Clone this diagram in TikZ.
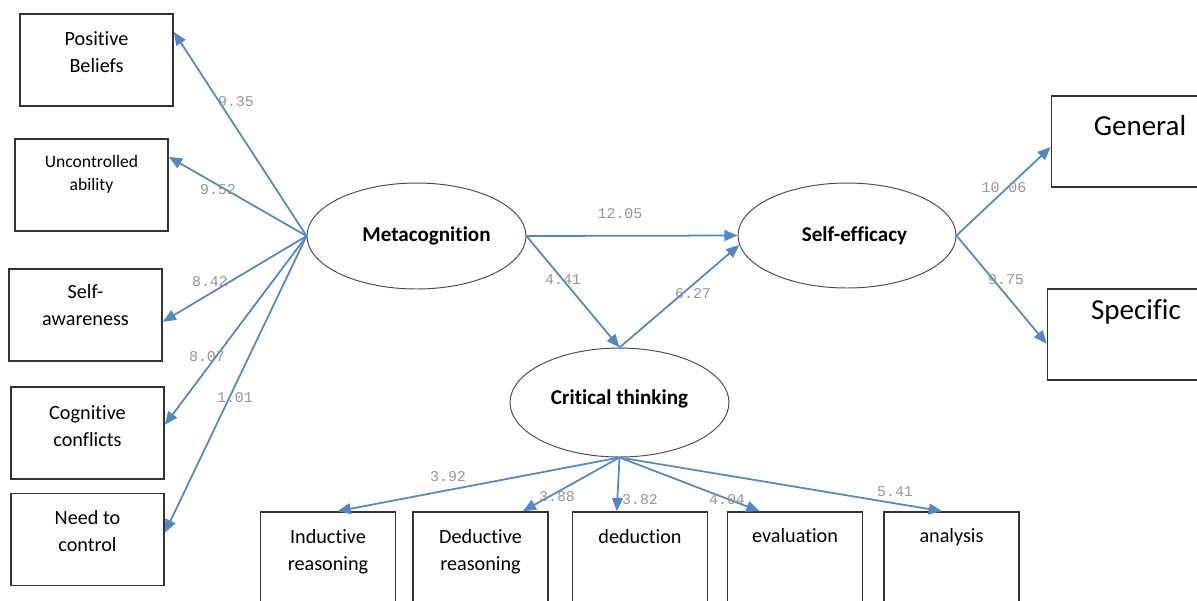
\documentclass[tikz,border=0pt]{standalone}
\usepackage{fontspec}
\setmainfont{Carlito}[Ligatures=NoCommon]
\newfontfamily\monofam{Liberation Mono}
\usepackage{tikz}
\usetikzlibrary{arrows.meta, positioning, shapes.geometric, calc}
\definecolor{pathblue}{RGB}{84,136,196}
\definecolor{coefgray}{RGB}{150,150,150}

\begin{document}
\begin{tikzpicture}[x=0.02cm, y=-0.02cm,
    obs/.style={draw=black!80, line width=0.95pt, minimum width=3.06cm, minimum height=1.84cm, inner sep=0pt},
    obslow/.style={obs, minimum width=2.7cm, minimum height=2.3cm},
    obsbig/.style={obs, minimum width=3.54cm, minimum height=1.82cm},
    latent/.style={draw=black!70, line width=0.55pt, ellipse, inner sep=0pt, font=\bfseries\fontsize{12}{14}\selectfont},
    obstext/.style={inner sep=0pt, align=center, font=\fontsize{11.5}{15.3}\selectfont},
    load/.style={pathblue, line width=1pt, -{Triangle[length=7.5pt, width=6.2pt]}},
    coef/.style={coefgray, inner sep=0pt, font=\monofam\fontsize{8.5}{10}\selectfont}]
                \useasboundingbox (0,0) rectangle (1197,600);

                % Latent variables
                \node[latent, minimum width=4.38cm, minimum height=2.12cm] (meta) at (416.5,236) {\hspace*{0.4cm}Metacognition};
                \node[latent, minimum width=4.36cm, minimum height=2.1cm] (se) at (847,235.5) {\hspace*{0.3cm}Self-efficacy};
                \node[latent, minimum width=4.38cm, minimum height=2.18cm] (ct) at (619.5,402.5) {\raisebox{0.2cm}{Critical thinking}};

                % Metacognition indicators
                \node[obs] (pb) at (96.5,60) {};
                \node[obstext, below=10.2pt of pb.north] (pb-t) {Positive\\Beliefs};
                \node[obs] (ua) at (91.5,185) {};
                \node[obstext, font=\fontsize{10}{13}\selectfont, below=9.6pt of ua.north] (ua-t) {Uncontrolled\\ability};
                \node[obs] (sa) at (85.5,315) {};
                \node[obstext, below=9pt of sa.north] (sa-t) {Self-\\awareness};
                \node[obs] (cc) at (87.5,433) {};
                \node[obstext, below=10.8pt of cc.north] (cc-t) {Cognitive\\conflicts};
                \node[obs] (nc) at (87.5,539.5) {};
                \node[obstext, below=10.2pt of nc.north] (nc-t) {Need to\\control};

                % Self-efficacy indicators
                \node[obsbig] (gen) at (1140,141.5) {};
                \node[obstext, font=\fontsize{16.5}{19}\selectfont, below=11.3pt of gen.north] (gen-t) {General};
                \node[obsbig] (spec) at (1136,334.5) {};
                \node[obstext, font=\fontsize{16.5}{19}\selectfont, below=6.2pt of spec.north] (spec-t) {Specific};

                % Critical thinking indicators
                \node[obslow] (ind) at (328,569.5) {};
                \node[obstext, below=10.2pt of ind.north] (ind-t) {Inductive\\reasoning};
                \node[obslow] (ded) at (480.5,569.5) {};
                \node[obstext, below=10.2pt of ded.north] (ded-t) {Deductive\\reasoning};
                \node[obslow] (dedn) at (640,569.5) {};
                \node[obstext, below=10.2pt of dedn.north] (dedn-t) {deduction};
                \node[obslow] (eval) at (795,569.5) {};
                \node[obstext, below=9.6pt of eval.north] (eval-t) {evaluation};
                \node[obslow] (anal) at (951.5,569.5) {};
                \node[obstext, below=9.6pt of anal.north] (anal-t) {analysis};

                % Loadings of metacognition
                \draw[load] (meta.west) -- (pb.20);
                \draw[load] (meta.west) -- (ua.20);
                \draw[load] (meta.west) -- (sa.-5);
                \draw[load] (meta.west) -- (cc.6);
                \draw[load] (meta.west) -- (nc.5);

                % Structural paths
                \draw[load] (meta.east) -- (se.west);
                \draw[load] (meta.east) -- (ct.north);
                \draw[load] (ct.north) -- (se.185);

                % Loadings of self-efficacy
                \draw[load] (se.east) -- ($(gen.north west)!0.56!(gen.south west)$);
                \draw[load] (se.east) -- ($(spec.north west)!0.6!(spec.south west)$);

                % Loadings of critical thinking
                \draw[load] (ct.south) -- ($(ind.north west)!0.57!(ind.north east)$);
                \draw[load] (ct.south) -- ($(ded.north west)!0.81!(ded.north east)$);
                \draw[load] (ct.south) -- ($(dedn.north west)!0.33!(dedn.north east)$);
                \draw[load] (ct.south) -- ($(eval.north west)!0.24!(eval.north east)$);
                \draw[load] (ct.south) -- ($(anal.north west)!0.43!(anal.north east)$);

                % Coefficients
                \node[coef] (c-pb) at (236,102) {9.35};
                \node[coef] (c-ua) at (218,190) {9.52};
                \node[coef] (c-sa) at (210,282) {8.42};
                \node[coef] (c-cc) at (207,357) {8.07};
                \node[coef] (c-nc) at (235,398) {1.01};
                \node[coef] (c-mse) at (620,214) {12.05};
                \node[coef] (c-mct) at (563,280) {4.41};
                \node[coef] (c-ctse) at (693,294) {6.27};
                \node[coef] (c-gen) at (1004,188) {10.06};
                \node[coef] (c-spec) at (1006,280) {9.75};
                \node[coef] (c-ind) at (448,477) {3.92};
                \node[coef] (c-ded) at (557,497) {3.88};
                \node[coef] (c-dedn) at (640,500) {3.82};
                \node[coef] (c-eval) at (727,500) {4.04};
                \node[coef] (c-anal) at (895,492) {5.41};
            \end{tikzpicture}
\end{document}
